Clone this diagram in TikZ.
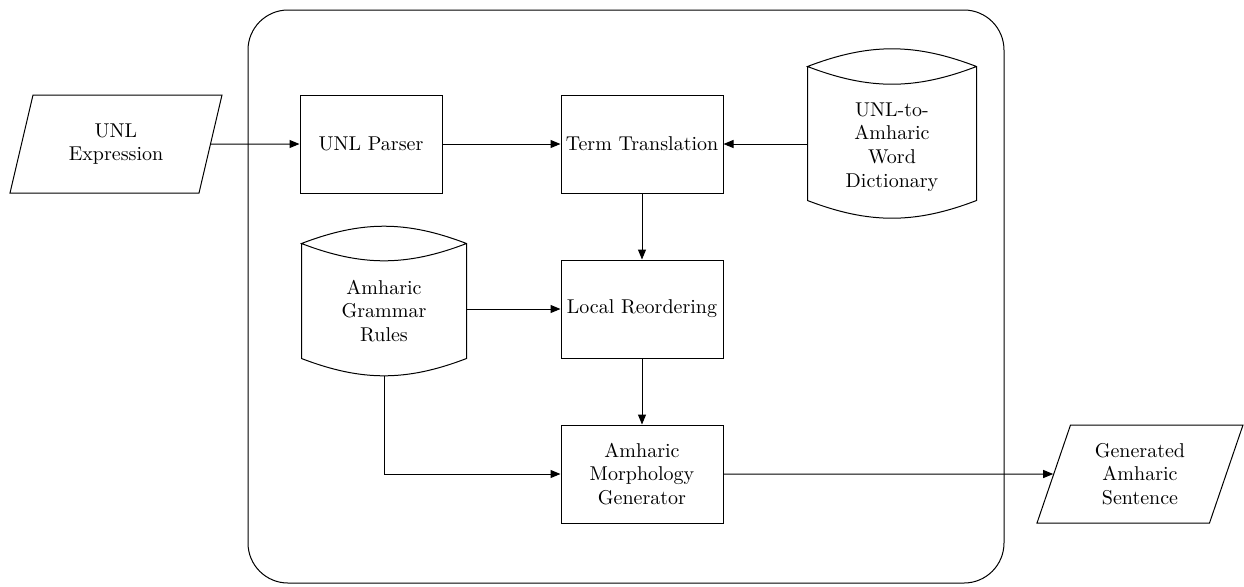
\documentclass[tikz,border=0pt]{standalone}
\usetikzlibrary{arrows.meta, shapes.geometric}
\tikzset{
  procbox/.style={draw, minimum width=81pt, minimum height=49pt, align=center, inner sep=2pt},
  storebox/.style={align=center, inner sep=0pt},
  iobox/.style={draw, trapezium, trapezium left angle=63, trapezium right angle=117,
    trapezium stretches body, minimum height=49pt, align=center, inner sep=1pt},
  flow/.style={-{Triangle[length=5pt,width=4pt]}},
}

\begin{document}
\begin{tikzpicture}[x=0.5pt, y=-0.5pt, line width=0.5pt,
    font=\fontsize{10}{11.8}\selectfont]
    \useasboundingbox (0,0) rectangle (1244,586);
    % generation module frame
    \draw[rounded corners=20pt] (248,10) rectangle (1004,583);
    \node[iobox, minimum width=106pt] (unl) at (116,144) {UNL\\Expression};
    \node[procbox, minimum width=71pt] (parser) at (371,144) {UNL Parser};
    \node[procbox] (term) at (642,144) {Term Translation};
    \node[procbox] (reorder) at (642,309) {Local Reordering};
    \node[procbox] (morph) at (642,474) {Amharic\\Morphology\\Generator};
    \node[iobox, minimum width=103pt] (gen) at (1140,474) {Generated\\Amharic\\Sentence};
    \node[storebox, minimum width=84pt, minimum height=80pt] (dict) at (892,147)
      {UNL-to-\\Amharic\\Word\\Dictionary};
    \node[storebox, minimum width=82pt, minimum height=67pt] (rules) at (384,311)
      {Amharic\\Grammar\\Rules};
    % drum outlines, the text sits low in them
    \foreach \n/\s in {dict/13.5pt, rules/10pt}
      \draw (\n.north west) -- ([yshift=\s]\n.south west)
        to[bend right=21] coordinate[midway] (\n-base) ([yshift=\s]\n.south east)
        -- (\n.north east) to[bend right=21] (\n.north west)
        to[bend right=21] (\n.north east);
    \draw[flow] (unl.east) -- (parser.west);
    \draw[flow] (parser.east) -- (term.west);
    \draw[flow] (dict.west |- term.east) -- (term.east);
    \draw[flow] (term.south) -- (reorder.north);
    \draw[flow] (rules.east |- reorder.west) -- (reorder.west);
    \draw[flow] (reorder.south) -- (morph.north);
    \draw[flow] (rules-base) |- (morph.west);
    \draw[flow] (morph.east) -- (gen.west);
\end{tikzpicture}
\end{document}
